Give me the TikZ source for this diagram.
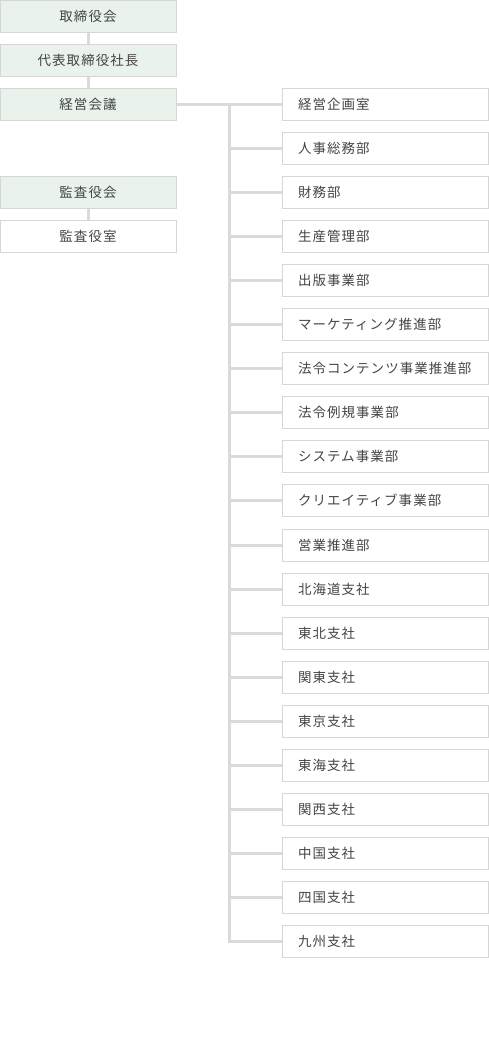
\documentclass[tikz,border=0pt]{standalone}
\usepackage{fontspec}
\newfontfamily\jp[LetterSpace=8]{Noto Sans CJK JP}
\definecolor{boxline}{HTML}{D6D6D6}
\definecolor{linkline}{HTML}{DADADA}
\definecolor{greenfill}{HTML}{E9F2EB}
\definecolor{textgray}{HTML}{444444}

\begin{document}
\begin{tikzpicture}[x=0.75pt,y=-0.75pt]
			\tikzstyle{board}=[draw=boxline,fill=greenfill,line width=0.75pt,minimum width=132pt,minimum height=24pt,inner sep=0pt,text=textgray,font=\jp\fontsize{10.1pt}{12pt}\selectfont]
			\tikzstyle{office}=[board,fill=white]
			\tikzstyle{dept}=[office,minimum width=154.5pt,text width=130.5pt,align=left]
			\tikzstyle{link}=[draw=linkline,line width=2.25pt]
				\useasboundingbox (0,0) rectangle (489,1064);
				% left column
				\node[board](torishimari) at (88,16.5){取締役会};
				\node[board](shacho) at (88,60.5){代表取締役社長};
				\node[board](kaigi) at (88,104.5){経営会議};
				\node[board](kansayaku) at (88,192.5){監査役会};
				\node[office](kansashitsu) at (88,236.5){監査役室};
				% right column
				\node[dept](d1) at (385,104.5){経営企画室};
				\node[dept](d2) at (385,148.5){人事総務部};
				\node[dept](d3) at (385,192.5){財務部};
				\node[dept](d4) at (385,236.5){生産管理部};
				\node[dept](d5) at (385,280.5){出版事業部};
				\node[dept](d6) at (385,324.5){マーケティング推進部};
				\node[dept](d7) at (385,368.5){法令コンテンツ事業推進部};
				\node[dept](d8) at (385,412.5){法令例規事業部};
				\node[dept](d9) at (385,456.5){システム事業部};
				\node[dept](d10) at (385,500.5){クリエイティブ事業部};
				\node[dept](d11) at (385,545){営業推進部};
				\node[dept](d12) at (385,589){北海道支社};
				\node[dept](d13) at (385,633){東北支社};
				\node[dept](d14) at (385,677){関東支社};
				\node[dept](d15) at (385,721){東京支社};
				\node[dept](d16) at (385,765){東海支社};
				\node[dept](d17) at (385,809){関西支社};
				\node[dept](d18) at (385,853){中国支社};
				\node[dept](d19) at (385,897){四国支社};
				\node[dept](d20) at (385,941){九州支社};
				\coordinate(trunk) at (229,104);
				\path[link]
					(torishimari) edge (shacho)
					(shacho) edge (kaigi)
					(kansayaku) edge (kansashitsu)
					(kaigi) edge (d1);
				\draw[link] (trunk) |- (d20.west);
				\foreach \d in {d2,d3,d4,d5,d6,d7,d8,d9,d10,d11,d12,d13,d14,d15,d16,d17,d18,d19}
					\draw[link] (trunk |- \d.west) -- (\d.west);
			\end{tikzpicture}
\end{document}
